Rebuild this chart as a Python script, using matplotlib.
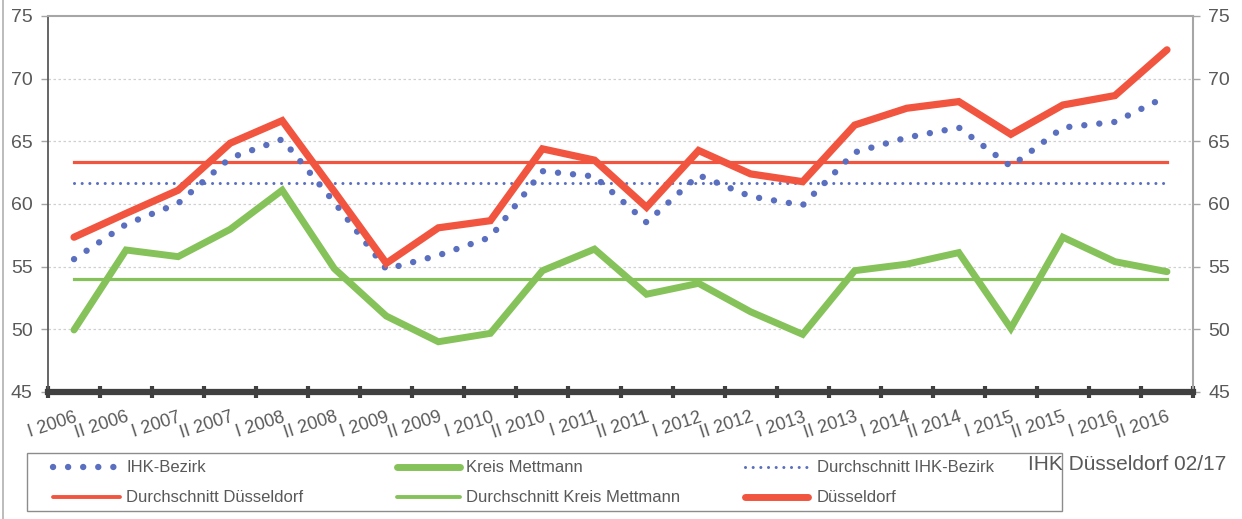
import matplotlib
matplotlib.use("Agg")
import matplotlib.pyplot as plt
from matplotlib.lines import Line2D
from matplotlib.patches import Rectangle
import numpy as np

plt.rcParams['font.family'] = ['Liberation Sans', 'DejaVu Sans']

# ---------------- data ----------------
categories = ['I 2006', 'II 2006', 'I 2007', 'II 2007', 'I 2008', 'II 2008',
              'I 2009', 'II 2009', 'I 2010', 'II 2010', 'I 2011', 'II 2011',
              'I 2012', 'II 2012', 'I 2013', 'II 2013', 'I 2014', 'II 2014',
              'I 2015', 'II 2015', 'I 2016', 'II 2016']
duesseldorf = [57.35, 59.25, 61.1, 64.85, 66.65, 61.0, 55.27, 58.1, 58.67, 64.4, 63.5,
               59.74, 64.27, 62.4, 61.78, 66.3, 67.64, 68.17, 65.56, 67.9, 68.65, 72.3]
kreis_mettmann = [49.95, 56.33, 55.8, 57.98, 61.1, 54.85, 51.06, 49.01, 49.68, 54.68, 56.4,
                  52.8, 53.67, 51.4, 49.6, 54.68, 55.2, 56.12, 50.08, 57.35, 55.4, 54.6]
ihk_bezirk = [55.6, 58.38, 60.05, 63.67, 65.16, 60.14, 54.8, 55.9, 57.35, 62.62, 62.2,
              58.53, 62.3, 60.6, 59.9, 64.12, 65.3, 66.1, 63.0, 66.1, 66.55, 68.6]
avg_duesseldorf = [63.33] * len(categories)
avg_ihk = [61.65] * len(categories)
avg_mettmann = [54.0] * len(categories)
y_ticks = [45, 50, 55, 60, 65, 70, 75]

# ---------------- style ----------------
RED = '#F2553F'
GREEN = '#85C35A'
BLUE = '#5A6FBF'
TXT = '#595959'
W, H = 1242, 519

def fx(x):
    return x / W

def fy(y):
    return 1 - y / H

fig = plt.figure(figsize=(W / 100, H / 100), dpi=100)
ax = fig.add_axes([fx(48), fy(392), (1193 - 48) / W, (392 - 16) / H])

x = np.arange(len(categories))

# grid
for v in y_ticks[1:-1]:
    ax.axhline(v, color='#D0D0D0', lw=0.9, ls=(0, (2, 2)), zorder=0)

ax.plot(x, avg_mettmann, color=GREEN, lw=2.3, zorder=2)
ax.plot(x, avg_duesseldorf, color=RED, lw=2.3, zorder=2)
ax.plot(x, avg_ihk, color=BLUE, lw=2.2, ls=(0, (0.01, 2.5)), dash_capstyle='round', zorder=2)
ax.plot(x, kreis_mettmann, color=GREEN, lw=5, solid_capstyle='round', solid_joinstyle='miter', zorder=3)
ax.plot(x, ihk_bezirk, color=BLUE, lw=4.6, ls=(0, (0.01, 2.35)), dash_capstyle='round', zorder=4)
ax.plot(x, duesseldorf, color=RED, lw=5.2, solid_capstyle='round', solid_joinstyle='miter', zorder=5)

ax.set_xlim(-0.5, len(categories) - 0.5)
ax.set_ylim(45, 75)

# spines
ax.spines['left'].set_color('#595959')
ax.spines['left'].set_linewidth(1.3)
ax.spines['top'].set_color('#A6A6A6')
ax.spines['top'].set_linewidth(1.5)
ax.spines['right'].set_color('#A6A6A6')
ax.spines['right'].set_linewidth(1.5)
ax.spines['bottom'].set_color('#404040')
ax.spines['bottom'].set_linewidth(4.5)
ax.spines['bottom'].set_zorder(6)

# y axis both sides
ax.set_yticks(y_ticks)
ax.tick_params(axis='y', which='both', left=True, right=True, labelleft=True, labelright=True,
               length=5, width=1, color='#A6A6A6', labelsize=14, labelcolor=TXT, pad=6)

# x axis: major ticks at boundaries, labels at centers
ax.set_xticks(np.arange(-0.5, len(categories), 1.0))
ax.set_xticklabels([])
ax.set_xticks(x, minor=True)
ax.set_xticklabels(categories, minor=True, rotation=18, ha='right', va='top',
                   rotation_mode='anchor', fontsize=13, color=TXT)
ax.tick_params(axis='x', which='major', direction='inout', length=9, width=3, color='#404040')
ax.tick_params(axis='x', which='minor', length=0, pad=12)

# figure left border
fig.add_artist(Line2D([fx(3), fx(3)], [0, 1], color='#B0B0B0', lw=1.2))

# legend (manual)
fig.add_artist(Rectangle((fx(27), fy(511)), (1062 - 27) / W, (511 - 453) / H,
                         fill=False, edgecolor='#8C8C8C', lw=1))
entries = [
    (53, 120, 467, 'IHK-Bezirk', dict(color=BLUE, lw=4.6, ls=(0, (0.01, 2.35)), dash_capstyle='round')),
    (397, 460, 467, 'Kreis Mettmann', dict(color=GREEN, lw=5, solid_capstyle='round')),
    (745, 808, 467, 'Durchschnitt IHK-Bezirk', dict(color=BLUE, lw=2.2, ls=(0, (0.01, 2.5)), dash_capstyle='round')),
    (53, 120, 497, 'Durchschnitt Düsseldorf', dict(color=RED, lw=2.8, solid_capstyle='round')),
    (397, 460, 497, 'Durchschnitt Kreis Mettmann', dict(color=GREEN, lw=2.8, solid_capstyle='round')),
    (745, 808, 497, 'Düsseldorf', dict(color=RED, lw=5, solid_capstyle='round')),
]
for x0, x1, yy, label, kw in entries:
    fig.add_artist(Line2D([fx(x0), fx(x1)], [fy(yy), fy(yy)], **kw))
    tx = x1 + 6 if x1 < 700 else x1 + 9
    fig.text(fx(tx), fy(yy), label, fontsize=12, color=TXT, ha='left', va='center')

fig.text(fx(1028), fy(465), 'IHK Düsseldorf 02/17', fontsize=15, color=TXT, ha='left', va='center')

fig.savefig('out.png', dpi=100)
